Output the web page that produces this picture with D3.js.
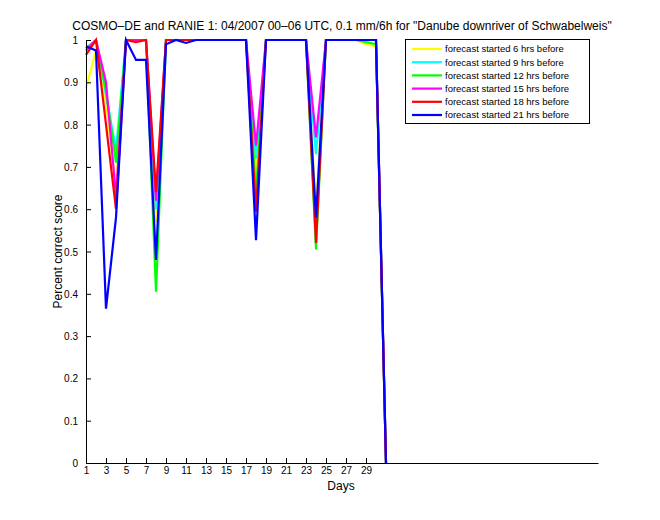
<!DOCTYPE html>
<html>
<head>
<meta charset="utf-8">
<script src="https://cdn.jsdelivr.net/npm/d3@7"></script>
<style>
  html, body { margin: 0; padding: 0; background: #fff; }
  svg { display: block; font-family: "Liberation Sans", Arial, Helvetica, sans-serif; }
</style>
</head>
<body>
<svg id="chart" width="660" height="520"></svg>
<script>
// ---- data ----
const days = d3.range(1, 32);
const seriesNames = [
  "forecast started 6 hrs before",
  "forecast started 9 hrs before",
  "forecast started 12 hrs before",
  "forecast started 15 hrs before",
  "forecast started 18 hrs before",
  "forecast started 21 hrs before"
];
const seriesColors = ["#ffff00", "#00ffff", "#00ff00", "#ff00ff", "#ff0000", "#0000ff"];
//                 d1     d2     d3    d4    d5   d6     d7    d8     d9    d10  d11    d12 d13 d14 d15 d16 d17 d18    d19 d20 d21 d22 d23 d24    d25 d26 d27 d28 d29    d30    d31
const fc6h  = [0.886, 0.975, 0.85, 0.65, 1,   1,     1,    0.57,  1,    1,   1,     1,  1,  1,  1,  1,  1,  0.68,  1,  1,  1,  1,  1,  0.60,  1,  1,  1,  1,  0.99,  0.985, 0];
const fc9h  = [0.98,  1,     0.87, 0.74, 1,   1,     1,    0.60,  1,    1,   1,     1,  1,  1,  1,  1,  1,  0.72,  1,  1,  1,  1,  1,  0.73,  1,  1,  1,  1,  1,     1,     0];
const fc12h = [0.98,  1,     0.88, 0.71, 1,   1,     1,    0.405, 1,    1,   1,     1,  1,  1,  1,  1,  1,  0.64,  1,  1,  1,  1,  1,  0.505, 1,  1,  1,  1,  0.995, 0.99,  0];
const fc15h = [0.975, 1,     0.90, 0.63, 1,   1,     1,    0.62,  1,    1,   1,     1,  1,  1,  1,  1,  1,  0.75,  1,  1,  1,  1,  1,  0.77,  1,  1,  1,  1,  1,     1,     0];
const fc18h = [0.965, 1,     0.80, 0.60, 1,   0.995, 1,    0.64,  1,    1,   1,     1,  1,  1,  1,  1,  1,  0.595, 1,  1,  1,  1,  1,  0.52,  1,  1,  1,  1,  1,     1,     0];
const fc21h = [0.985, 0.975, 0.365,0.58, 1,   0.953, 0.953,0.48,  0.99, 1,   0.993, 1,  1,  1,  1,  1,  1,  0.527, 1,  1,  1,  1,  1,  0.58,  1,  1,  1,  1,  1,     1,     0];
const seriesValues = [fc6h, fc9h, fc12h, fc15h, fc18h, fc21h];
const xTicks = [1, 3, 5, 7, 9, 11, 13, 15, 17, 19, 21, 23, 25, 27, 29];
const yTicks = [0, 0.1, 0.2, 0.3, 0.4, 0.5, 0.6, 0.7, 0.8, 0.9, 1];
const yTickLabels = ["0", "0.1", "0.2", "0.3", "0.4", "0.5", "0.6", "0.7", "0.8", "0.9", "1"];
const titleText = "COSMO\u2013DE and RANIE 1: 04/2007 00\u201306 UTC, 0.1 mm/6h for \"Danube downriver of Schwabelweis\"";

// ---- layout ----
const svg = d3.select("#chart");
const L = 86, R = 598, T = 40, B = 463;
const x = d3.scaleLinear().domain([1, 52.2]).range([L, R]);
const y = d3.scaleLinear().domain([0, 1]).range([B, T]);

// lines
const line = d3.line().x((d, i) => x(days[i])).y(d => y(d));
const g = svg.append("g");
seriesValues.forEach((vals, k) => {
  g.append("path")
    .datum(vals)
    .attr("d", line)
    .attr("fill", "none")
    .attr("stroke", seriesColors[k])
    .attr("stroke-width", 2.2)
    .attr("stroke-linejoin", "miter");
});

// axes
const xAxis = d3.axisBottom(x).tickValues(xTicks).tickFormat(d3.format("d")).tickSizeInner(-5).tickSizeOuter(0).tickPadding(6);
const yAxis = d3.axisLeft(y).tickValues(yTicks).tickFormat((d, i) => yTickLabels[i]).tickSizeInner(-5).tickSizeOuter(0).tickPadding(8);

const gx = svg.append("g").attr("transform", `translate(0,${B})`).call(xAxis);
const gy = svg.append("g").attr("transform", `translate(${L},0)`).call(yAxis);
[gx, gy].forEach(a => {
  a.selectAll("path.domain").attr("stroke", "#000").attr("stroke-width", 1);
  a.selectAll("line").attr("stroke", "#000");
  a.selectAll("text").attr("font-size", 10).attr("fill", "#000")
    .attr("font-family", "'Liberation Sans', Arial, sans-serif");
});
gx.selectAll("text").attr("dy", "0.5em");
gy.selectAll("text").attr("dy", "0.35em");

// title and labels
svg.append("text").attr("x", 342).attr("y", 30).attr("text-anchor", "middle")
  .attr("font-size", 12).attr("fill", "#000").text(titleText);
svg.append("text").attr("x", 341).attr("y", 490).attr("text-anchor", "middle")
  .attr("font-size", 12).attr("fill", "#000").text("Days");
svg.append("text").attr("transform", `translate(62,${(T + B) / 2}) rotate(-90)`).attr("text-anchor", "middle")
  .attr("font-size", 12).attr("fill", "#000").text("Percent correct score");

// legend
const lg = svg.append("g");
lg.append("rect").attr("x", 405.5).attr("y", 39.5).attr("width", 184).attr("height", 84)
  .attr("fill", "#fff").attr("stroke", "#000").attr("stroke-width", 1);
seriesNames.forEach((name, k) => {
  const yy = 49 + k * 13.2;
  lg.append("line").attr("x1", 412).attr("x2", 442).attr("y1", yy).attr("y2", yy)
    .attr("stroke", seriesColors[k]).attr("stroke-width", 2.2);
  lg.append("text").attr("x", 445).attr("y", yy).attr("dy", "0.35em")
    .attr("font-size", 9.5).attr("fill", "#000").text(name);
});
</script>
</body>
</html>
